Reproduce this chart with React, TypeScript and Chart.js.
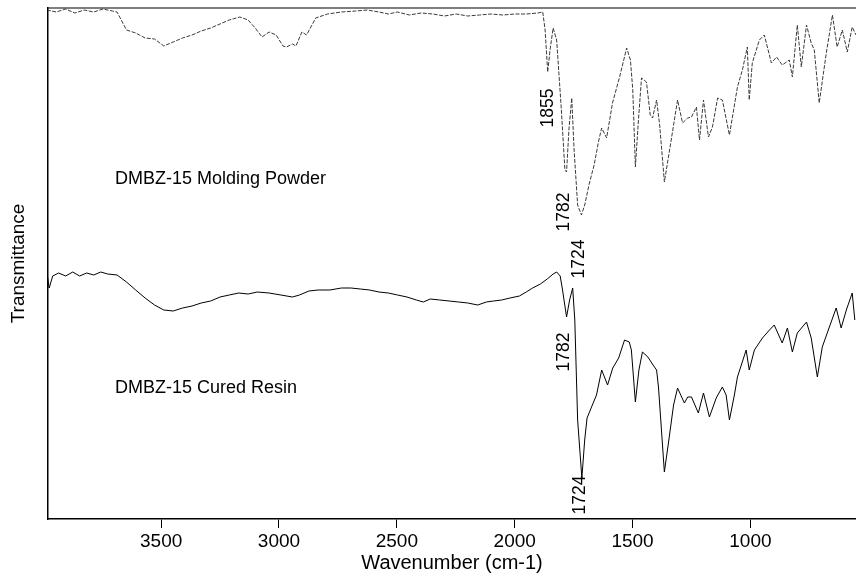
import React, { useEffect, useRef } from "react";
import { Chart, registerables } from "chart.js";

Chart.register(...registerables);

// Wavenumber (cm-1) and relative transmittance (arbitrary units)
const powderWave = [3985, 3945, 3905, 3866, 3826, 3786, 3747, 3707, 3687, 3647, 3608, 3568, 3528, 3489, 3449, 3409, 3369, 3330, 3290, 3250, 3211, 3166, 3131, 3101, 3072, 3042, 3012, 2983, 2968, 2943, 2928, 2903, 2883, 2844, 2794, 2735, 2675, 2625, 2576, 2536, 2497, 2447, 2397, 2347, 2298, 2248, 2199, 2149, 2100, 2050, 2000, 1951, 1901, 1881, 1871, 1860, 1850, 1837, 1822, 1802, 1787, 1780, 1770, 1758, 1748, 1733, 1717, 1703, 1683, 1663, 1643, 1631, 1610, 1585, 1555, 1525, 1509, 1499, 1488, 1475, 1462, 1441, 1425, 1415, 1398, 1385, 1365, 1336, 1309, 1288, 1266, 1250, 1229, 1216, 1199, 1178, 1161, 1139, 1119, 1089, 1055, 1034, 1013, 1005, 992, 962, 941, 911, 889, 865, 835, 822, 801, 784, 762, 742, 729, 708, 678, 652, 632, 610, 589, 568, 552];
const powderT = [509, 507, 510, 506, 509, 507, 510, 508, 507, 489, 486, 481, 480, 473, 477, 481, 484, 488, 491, 495, 499, 502, 499, 491, 482, 487, 484, 473, 472, 475, 473, 487, 484, 501, 505, 507, 508, 509, 507, 505, 507, 504, 506, 505, 503, 505, 503, 504, 505, 504, 505, 505, 506, 507, 489, 447, 469, 491, 479, 409, 349, 347, 389, 421, 369, 314, 304, 314, 336, 354, 379, 391, 381, 416, 442, 471, 459, 429, 352, 399, 441, 437, 404, 401, 419, 394, 337, 379, 419, 396, 401, 402, 412, 379, 419, 382, 392, 421, 419, 384, 432, 449, 472, 419, 456, 479, 484, 456, 462, 454, 459, 442, 494, 452, 494, 476, 469, 416, 466, 504, 472, 489, 467, 492, 484];

const resinWave = [3985, 3975, 3960, 3935, 3905, 3875, 3846, 3816, 3786, 3756, 3727, 3687, 3647, 3608, 3568, 3528, 3489, 3449, 3409, 3369, 3330, 3290, 3250, 3211, 3171, 3131, 3092, 3042, 2992, 2943, 2913, 2873, 2834, 2784, 2735, 2695, 2655, 2616, 2576, 2536, 2497, 2457, 2417, 2388, 2358, 2318, 2278, 2238, 2199, 2157, 2120, 2090, 2055, 2020, 1980, 1951, 1924, 1891, 1862, 1837, 1822, 1807, 1797, 1780, 1767, 1754, 1745, 1733, 1715, 1703, 1693, 1674, 1653, 1631, 1606, 1584, 1559, 1534, 1514, 1505, 1488, 1473, 1458, 1435, 1413, 1398, 1390, 1365, 1346, 1326, 1309, 1280, 1266, 1250, 1221, 1199, 1174, 1145, 1119, 1103, 1089, 1068, 1055, 1018, 1005, 983, 949, 919, 899, 865, 843, 822, 801, 762, 742, 716, 695, 665, 636, 615, 593, 568, 557];
const resinT = [247, 231, 243, 246, 243, 247, 243, 246, 244, 247, 245, 244, 237, 229, 221, 214, 209, 208, 211, 213, 216, 218, 222, 224, 226, 225, 227, 226, 224, 222, 224, 228, 229, 229, 231, 231, 230, 229, 227, 226, 224, 222, 219, 217, 220, 219, 218, 217, 216, 214, 217, 218, 219, 221, 223, 227, 231, 235, 240, 245, 247, 243, 229, 202, 219, 231, 199, 99, 41, 79, 101, 112, 124, 149, 134, 151, 161, 179, 177, 169, 117, 149, 167, 162, 154, 149, 132, 47, 79, 114, 131, 116, 122, 122, 106, 126, 102, 121, 132, 124, 99, 124, 142, 169, 149, 169, 181, 189, 194, 176, 191, 167, 186, 197, 181, 142, 172, 192, 211, 191, 209, 226, 199];

const tickValues = [3500, 3000, 2500, 2000, 1500, 1000];

// Peak labels: text, wavenumber, transmittance position
const peakLabels = ["1855", "1782", "1724", "1782", "1724"];
const peakWave = [1858, 1788, 1725, 1788, 1721];
const peakT = [411, 307, 260, 167, 24];

// Trace names: text, wavenumber (left edge), transmittance
const traceNames = ["DMBZ-15 Molding Powder", "DMBZ-15 Cured Resin"];
const traceNameWave = [3696, 3696];
const traceNameT = [340, 131];

const FONT = "'Liberation Sans', Arial, Helvetica, sans-serif";

const labelsPlugin = {
  id: "labelsPlugin",
  afterDatasetsDraw(chart: any) {
    const { ctx, chartArea, scales } = chart;
    const xs = scales.x;
    const ys = scales.y;
    ctx.save();
    // top frame line
    ctx.strokeStyle = "#000";
    ctx.lineWidth = 1.2;
    ctx.beginPath();
    ctx.moveTo(chartArea.left, chartArea.top);
    ctx.lineTo(chartArea.right, chartArea.top);
    ctx.stroke();

    ctx.fillStyle = "#000";
    ctx.font = `18px ${FONT}`;
    ctx.textBaseline = "middle";
    ctx.textAlign = "left";
    traceNames.forEach((t, i) => {
      ctx.fillText(t, xs.getPixelForValue(traceNameWave[i]), ys.getPixelForValue(traceNameT[i]));
    });

    ctx.font = `17.5px ${FONT}`;
    ctx.textAlign = "center";
    peakLabels.forEach((t, i) => {
      const px = xs.getPixelForValue(peakWave[i]);
      const py = ys.getPixelForValue(peakT[i]);
      ctx.save();
      ctx.translate(px, py);
      ctx.rotate(-Math.PI / 2);
      ctx.fillText(t, 0, 0);
      ctx.restore();
    });
    ctx.restore();
  },
};

export default function App() {
  const canvasRef = useRef<HTMLCanvasElement | null>(null);

  useEffect(() => {
    const canvas = canvasRef.current;
    if (!canvas) return;
    const chart = new Chart(canvas, {
      type: "line",
      data: {
        datasets: [
          {
            label: "DMBZ-15 Molding Powder",
            data: powderWave.map((w, i) => ({ x: w, y: powderT[i] })),
            borderColor: "#3a3a3a",
            borderWidth: 1,
            borderDash: [4, 1.5],
            pointRadius: 0,
            tension: 0,
            fill: false,
          },
          {
            label: "DMBZ-15 Cured Resin",
            data: resinWave.map((w, i) => ({ x: w, y: resinT[i] })),
            borderColor: "#000",
            borderWidth: 1,
            pointRadius: 0,
            tension: 0,
            fill: false,
          },
        ],
      },
      options: {
        animation: false,
        responsive: false,
        maintainAspectRatio: false,
        layout: { padding: { top: 8, right: 0, left: 0, bottom: 0 } },
        plugins: {
          legend: { display: false },
          tooltip: { enabled: false },
        },
        scales: {
          x: {
            type: "linear",
            reverse: true,
            min: 552,
            max: 3980,
            afterBuildTicks: (scale: any) => {
              scale.ticks = tickValues.map((v) => ({ value: v }));
            },
            afterFit: (scale: any) => {
              scale.height = 56;
            },
            grid: {
              display: true,
              drawOnChartArea: false,
              drawTicks: true,
              tickLength: 9,
              color: "#000",
              lineWidth: 1,
            },
            border: { display: true, color: "#000", width: 1.5 },
            ticks: {
              color: "#000",
              font: { family: FONT, size: 19 },
              padding: 2,
              maxRotation: 0,
              callback: (v: any) => String(v),
            },
            title: {
              display: true,
              text: "Wavenumber (cm-1)",
              color: "#000",
              font: { family: FONT, size: 20 },
              padding: { top: 0, bottom: 0 },
            },
          },
          y: {
            type: "linear",
            min: 0,
            max: 511,
            afterFit: (scale: any) => {
              scale.width = 48;
            },
            grid: { display: false },
            border: { display: true, color: "#000", width: 1.5 },
            ticks: { display: false },
            title: {
              display: true,
              text: "Transmittance",
              color: "#000",
              font: { family: FONT, size: 19 },
              padding: { top: 7, bottom: 0 },
            },
          },
        },
      },
      plugins: [labelsPlugin],
    });
    return () => chart.destroy();
  }, []);

  return (
    <div style={{ position: "fixed", left: 0, top: 0, width: 856, height: 575, background: "#fff" }}>
      <canvas ref={canvasRef} width={856} height={575} style={{ width: 856, height: 575 }} />
    </div>
  );
}
